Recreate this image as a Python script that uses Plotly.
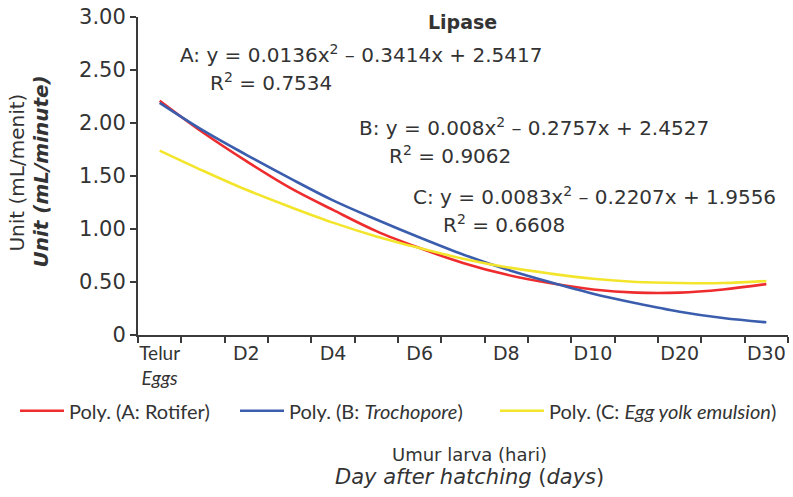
import plotly.graph_objects as go

categories = ["Telur", "D1", "D2", "D3", "D4", "D5", "D6", "D7", "D8", "D9", "D10", "D15", "D20", "D25", "D30"]
shown_labels = ["<span style='font-family:Lato'>Telur</span><br><span style='font-family:Lato'><i>Eggs</i></span>",
                "", "D2", "", "D4", "", "D6", "", "D8", "", "D10", "", "D20", "", "D30"]
rotifer = [2.21, 1.91, 1.64, 1.39, 1.18, 0.98, 0.82, 0.68, 0.57, 0.49, 0.43, 0.40, 0.40, 0.43, 0.48]
trochopore = [2.19, 1.93, 1.70, 1.48, 1.27, 1.09, 0.92, 0.76, 0.62, 0.50, 0.39, 0.30, 0.22, 0.16, 0.12]
egg_yolk = [1.74, 1.55, 1.37, 1.21, 1.06, 0.93, 0.82, 0.72, 0.64, 0.58, 0.53, 0.50, 0.49, 0.49, 0.51]
y_ticks = [0, 0.5, 1.0, 1.5, 2.0, 2.5, 3.0]
y_ticktext = ["0", "0.50", "1.00", "1.50", "2.00", "2.50", "3.00"]

xpos = list(range(1, len(categories) + 1))
FONT = "DejaVu Sans"
TXT = "#333333"
AX = "#3a3a3a"
L, T, W, H = 138, 12, 650, 323


def px(x):
    return (x - L) / W


def py(y):
    return (T + H - y) / H


fig = go.Figure()
series = [
    ("Poly. (A: Rotifer)", rotifer, "#EE2C2E", "legend", 15),
    ("Poly. (B: <i>Trochopore</i>)", trochopore, "#3B5DAE", "legend2", 235),
    ("Poly. (C: <i>Egg yolk emulsion</i>)", egg_yolk, "#F3E52C", "legend3", 495),
]
legend_cfg = {}
for name, vals, col, lg, lx in series:
    fig.add_trace(go.Scatter(x=xpos, y=vals, mode="lines", name=name, legend=lg,
                             line=dict(color=col, width=2.6, shape="spline")))
    legend_cfg[lg] = dict(orientation="h", x=px(lx), xanchor="left", y=py(412), yanchor="middle",
                          font=dict(family="Lato", size=20, color=TXT),
                          itemwidth=44, bgcolor="rgba(0,0,0,0)")

fig.update_layout(
    width=793, height=497,
    margin=dict(l=L, r=793 - L - W, t=T, b=497 - T - H),
    plot_bgcolor="white", paper_bgcolor="white",
    font=dict(family=FONT, color=TXT, size=15),
    showlegend=True,
    **legend_cfg,
)
fig.update_xaxes(
    range=[0.5, len(categories) + 0.5],
    tickvals=xpos, ticktext=shown_labels, ticks="",
    showline=True, linecolor=AX, linewidth=2,
    showgrid=False, zeroline=False,
    tickfont=dict(size=19, family=FONT),
    minor=dict(tick0=0.5, dtick=1, ticks="outside", ticklen=6, tickwidth=2, tickcolor=AX, showgrid=False),
)
fig.update_yaxes(
    range=[0, 3.0001], tickvals=y_ticks, ticktext=y_ticktext,
    ticks="outside", ticklen=6, tickwidth=2, tickcolor=AX,
    showline=True, linecolor=AX, linewidth=2,
    showgrid=False, zeroline=False,
    tickfont=dict(size=21, family=FONT),
)

ann = [
    dict(text="<b>Lipase</b>", x=462, y=17, size=19),
    dict(text="A: y = 0.0136x<sup>2</sup> – 0.3414x + 2.5417", x=178, y=50, size=20, anchor="left"),
    dict(text="R<sup>2</sup> = 0.7534", x=208, y=78, size=20, anchor="left"),
    dict(text="B: y = 0.008x<sup>2</sup> – 0.2757x + 2.4527", x=357, y=124, size=20, anchor="left"),
    dict(text="R<sup>2</sup> = 0.9062", x=387, y=152, size=20, anchor="left"),
    dict(text="C: y = 0.0083x<sup>2</sup> – 0.2207x + 1.9556", x=411, y=194, size=20, anchor="left"),
    dict(text="R<sup>2</sup> = 0.6608", x=441, y=222, size=20, anchor="left"),
    dict(text="Umur larva (hari)", x=469, y=456, size=18),
    dict(text="<i>Day after hatching</i> (<i>days</i>)", x=469, y=479, size=21),
]
for a in ann:
    fig.add_annotation(text=a["text"], xref="paper", yref="paper",
                       x=px(a["x"]), y=py(a["y"]),
                       xanchor=a.get("anchor", "center"), yanchor="middle",
                       showarrow=False, font=dict(size=a["size"], family=FONT, color=TXT))

fig.add_annotation(text="Unit (mL/menit)", xref="paper", yref="paper",
                   x=px(17), y=py(170), textangle=-90,
                   xanchor="center", yanchor="middle", showarrow=False,
                   font=dict(size=20, family=FONT, color=TXT))
fig.add_annotation(text="<b><i>Unit (mL/minute)</i></b>", xref="paper", yref="paper",
                   x=px(41), y=py(169), textangle=-90,
                   xanchor="center", yanchor="middle", showarrow=False,
                   font=dict(size=20, family=FONT, color=TXT))

fig.write_html("out.html")
